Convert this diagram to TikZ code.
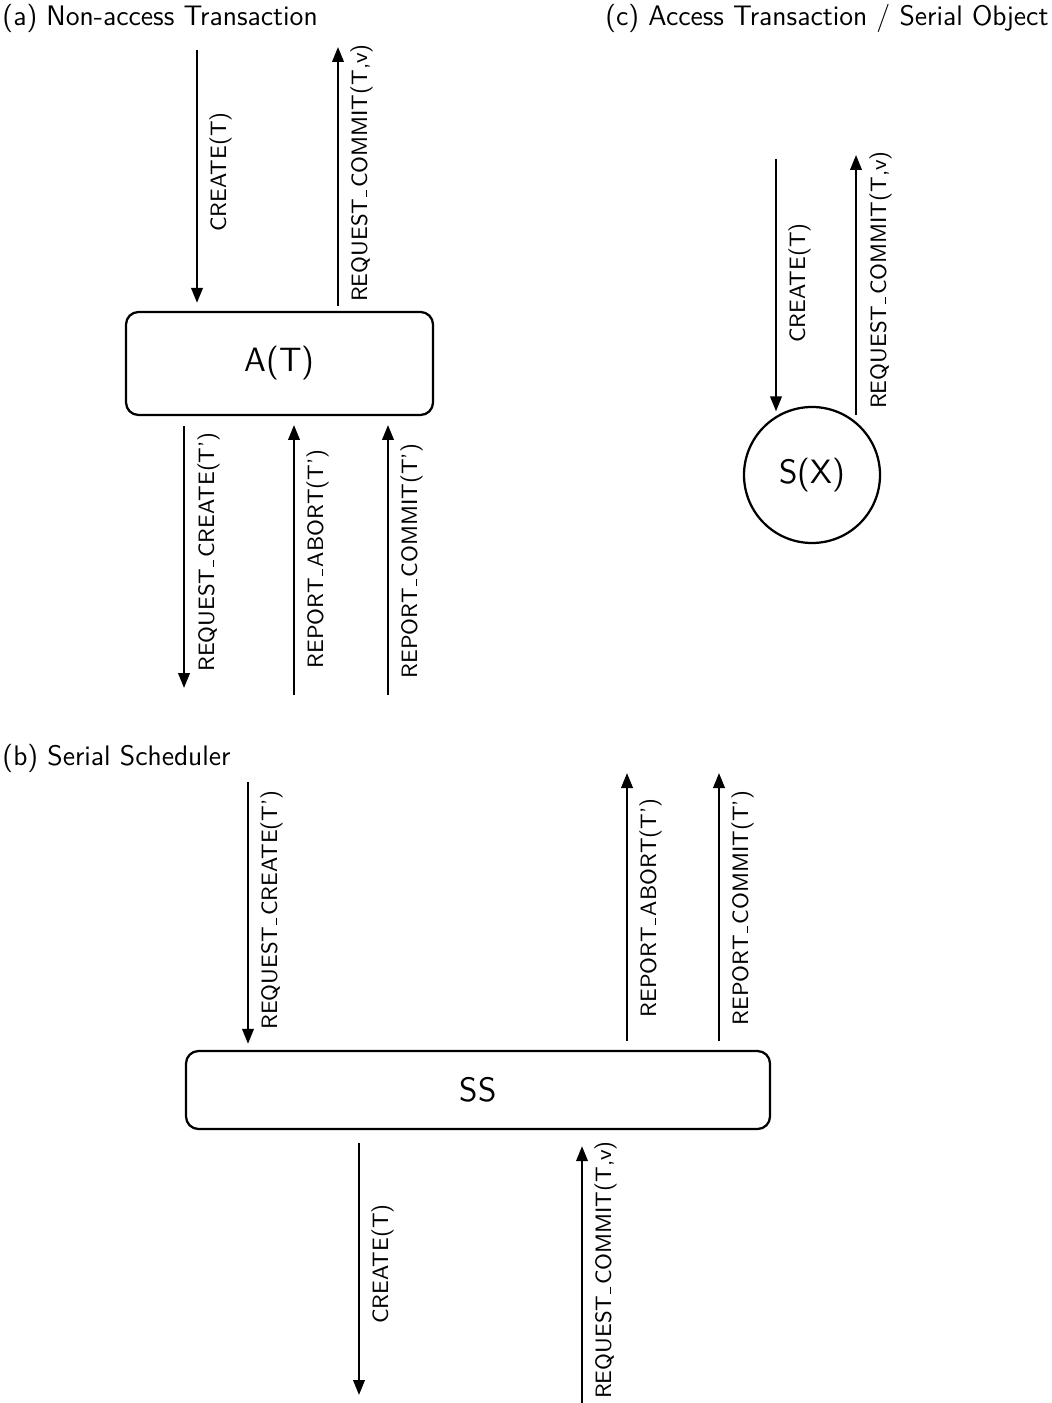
\documentclass[tikz,border=0pt]{standalone}
\usepackage{fontspec}
\usetikzlibrary{arrows.meta}
\newcommand{\usc}{\leavevmode\kern.09em\vbox{\hrule width .3em height .45pt}\kern.09em}
\begin{document}
\begin{tikzpicture}[x=0.4pt,y=-0.4pt,
  arr/.style={-{Triangle[length=6pt,width=4.6pt]}, line width=0.9pt},
  lbl/.style={rotate=90, anchor=north, inner sep=0pt, font=\sffamily\fontsize{8.9}{10}\selectfont},
  ttl/.style={inner sep=0pt, font=\sffamily\fontsize{11.3}{13}\selectfont},
  box/.style={draw, rounded corners=5pt, line width=0.9pt, inner sep=0pt, font=\sffamily\fontsize{13.5}{16}\selectfont},
  obj/.style={draw, circle, line width=0.9pt, inner sep=0pt, minimum size=54.4pt, font=\sffamily\fontsize{13.5}{16}\selectfont}
]
\useasboundingbox (0,0) rectangle (1051,1403);

% titles
\node[ttl, anchor=base west] (ta) at (2,26) {(a) Non-access Transaction};
\node[ttl, anchor=base west] (tb) at (2,765) {(b) Serial Scheduler};
\node[ttl, anchor=base east] (tc) at (1049,26) {(c) Access Transaction / Serial Object};

% (a) non-access transaction
\node[box, minimum width=122.8pt, minimum height=41.2pt] (A) at (279.5,363.5) {A(T)};
\coordinate (a1) at (197,50);
\coordinate (a2) at (338,47);
\coordinate (b1) at (184,688);
\coordinate (b2) at (294,425);
\coordinate (b3) at (388,425);
\draw[arr, shorten >=3.2pt] (a1) -- (a1 |- A.north);
\draw[arr, shorten <=2pt] (a2 |- A.north) -- (a2);
\draw[arr, shorten <=4pt] (b1 |- A.south) -- (b1);
\draw[arr] ([yshift=-108pt]b2) -- (b2);
\draw[arr] ([yshift=-108pt]b3) -- (b3);
\node[lbl] (la1) at (209,172) {CREATE(T)};
\node[lbl] (la2) at (350,173) {REQUEST\usc COMMIT(T,v)};
\node[lbl] (lb1) at (197,552) {REQUEST\usc CREATE(T')};
\node[lbl] (lb2) at (306,559) {REPORT\usc ABORT(T')};
\node[lbl] (lb3) at (400,561) {REPORT\usc COMMIT(T')};

% (c) access transaction / serial object
\node[obj] (SX) at (812,475) {S(X)};
\coordinate (c1) at (776,159);
\coordinate (c2) at (856,155);
\draw[arr, shorten >=2pt] (c1) -- (c1 |- SX.122);
\draw[arr, shorten <=3pt] (c2 |- SX.50) -- (c2);
\node[lbl] (lc1) at (788,283) {CREATE(T)};
\node[lbl] (lc2) at (869,280) {REQUEST\usc COMMIT(T,v)};

% (b) serial scheduler
\node[box, minimum width=233.6pt, minimum height=31.2pt] (SS) at (478,1090) {SS};
\coordinate (d1) at (248,782);
\coordinate (d2) at (627,773);
\coordinate (d3) at (719,773);
\coordinate (e1) at (359,1395);
\coordinate (e2) at (582,1405);
\draw[arr, shorten >=2.4pt] (d1) -- (d1 |- SS.north);
\draw[arr, shorten <=3.6pt] (d2 |- SS.north) -- (d2);
\draw[arr, shorten <=3.6pt] (d3 |- SS.north) -- (d3);
\draw[arr, shorten <=5.2pt] (e1 |- SS.south) -- (e1);
\draw[arr, shorten >=6.4pt] (e2) -- (e2 |- SS.south);
\node[lbl] (ld1) at (260,910) {REQUEST\usc CREATE(T')};
\node[lbl] (ld2) at (639,908) {REPORT\usc ABORT(T')};
\node[lbl] (ld3) at (731,908) {REPORT\usc COMMIT(T')};
\node[lbl] (le1) at (371,1264) {CREATE(T)};
\node[lbl] (le2) at (594,1270) {REQUEST\usc COMMIT(T,v)};
\end{tikzpicture}
\end{document}
